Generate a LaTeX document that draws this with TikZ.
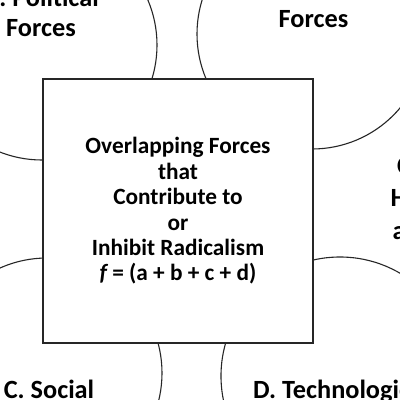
\documentclass[tikz,border=0pt]{standalone}
\usepackage{fontspec}
\setmainfont{Carlito}
\begin{document}
\begin{tikzpicture}[x=1pt,y=-1pt]
\tikzset{
  ring/.style={draw=black!85, line width=1.1pt, circle, inner sep=0pt},
  centerbox/.style={draw=black!85, line width=1.4pt, fill=white, inner sep=0pt},
  outerlabel/.style={font=\bfseries\fontsize{26.3}{30}\selectfont, text=black, inner sep=0pt},
  innerlabel/.style={font=\bfseries\fontsize{23.3}{25.4}\selectfont, align=center, text=black},
}
\useasboundingbox (0,0) rectangle (400,400);
\clip (0,0) rectangle (400,400);
\fill[white] (0,0) rectangle (400,400);
% circles
\node[ring, minimum size=230pt] (ca) at (42,45) {};
\node[ring, minimum size=230pt] (cb) at (312,34) {};
\node[ring, minimum size=230pt] (cc) at (47,373) {};
\node[ring, minimum size=238pt] (cd) at (340,376) {};
% labels
\node[outerlabel, anchor=base] (la1) at (41,6) {A. Political};
\node[outerlabel, anchor=base] (la2) at (41,36) {Forces};
\node[outerlabel, anchor=base] (lb2) at (313.5,27) {Forces};
\node[outerlabel, anchor=base] (lc1) at (49,398) {C. Social};
\node[outerlabel, anchor=base west] (ld1) at (253,398) {D. Technological};
\node[outerlabel, anchor=base west] (le1) at (397,174) {C};
\node[outerlabel, anchor=base west] (le2) at (390.5,206) {H};
\node[outerlabel, anchor=base west] (le3) at (392.5,239) {a};
% centre box
\node[centerbox, minimum width=270pt, minimum height=264pt] (core) at (178,211) {};
\node[innerlabel] (coretext) at (178,211) {Overlapping Forces\\that\\Contribute to\\or\\Inhibit Radicalism\\{\itshape f} = (a + b + c + d)};
\end{tikzpicture}
\end{document}
